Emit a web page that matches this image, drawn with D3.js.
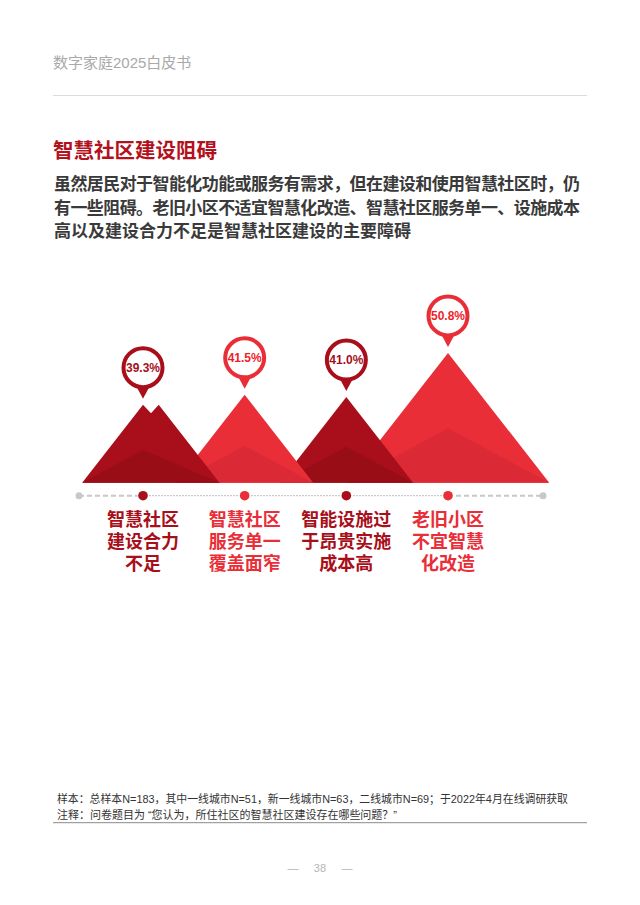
<!DOCTYPE html>
<html>
<head>
<meta charset="utf-8">
<script src="https://cdn.jsdelivr.net/npm/d3@7"></script>
<style>
  body { margin: 0; background: #fff; }
  svg { display: block; }
</style>
</head>
<body>
<div id="chart"></div>
<script>

// Survey answers and share of respondents (%)
const categories = ["建设合力不足", "服务单一覆盖面窄", "设施过于昂贵", "老旧小区不宜改造"]
const values = [39.3, 41.5, 41.0, 50.8]
const labelLines = [
    ["智慧社区", "建设合力", "不足"],
    ["智慧社区", "服务单一", "覆盖面窄"],
    ["智能设施过", "于昂贵实施", "成本高"],
    ["老旧小区", "不宜智慧", "化改造"]
]
const introLines = [
    "虽然居民对于智能化功能或服务有需求，但在建设和使用智慧社区时，仍",
    "有一些阻碍。老旧小区不适宜智慧化改造、智慧社区服务单一、设施成本",
    "高以及建设合力不足是智慧社区建设的主要障碍"
]
const noteLines = [
    "样本：总样本N=183，其中一线城市N=51，新一线城市N=63，二线城市N=69；于2022年4月在线调研获取",
    "注释：问卷题目为 “您认为，所住社区的智慧社区建设存在哪些问题？”"
]
const noteLengths = [511, 340]

const width = 640, height = 905
const cjk = "'Liberation Sans', 'Noto Sans CJK SC', sans-serif"
const darkRed = "#a80f1a", lightRed = "#e92e38"
const darkShade = "#990d17", lightShade = "#db2a35"

const svg = d3.select("#chart").append("svg")
    .attr("width", width)
    .attr("height", height)

// page header
svg.append("text")
    .attr("x", 53).attr("y", 68)
    .attr("font-family", cjk)
    .attr("font-size", 15)
    .attr("fill", "#a9a9a9")
    .text("数字家庭2025白皮书")

svg.append("line")
    .attr("x1", 53).attr("x2", 587)
    .attr("y1", 95.5).attr("y2", 95.5)
    .attr("stroke", "#dcdcdc")
    .attr("stroke-width", 1.2)

svg.append("text")
    .attr("x", 53).attr("y", 158)
    .attr("font-family", cjk)
    .attr("font-size", 20.5)
    .attr("font-weight", "bold")
    .attr("fill", "#b3111c")
    .text("智慧社区建设阻碍")

svg.selectAll(".intro")
    .data(introLines)
    .enter()
    .append("text")
    .attr("class", "intro")
    .attr("x", 54)
    .attr("y", (d, i) => 190 + i * 23.5)
    .attr("font-family", cjk)
    .attr("font-size", 17)
    .attr("font-weight", "bold")
    .attr("fill", "#3a3a3a")
    .each(function (d, i) {
        if (i < introLines.length - 1) {
            d3.select(this).attr("textLength", 526).attr("lengthAdjust", "spacing")
        }
    })
    .text(d => d)

// chart area
const baseY = 482.7
const axisY = 495.7

const x = d3.scalePoint()
    .domain(categories)
    .range([143, 448])

const y = d3.scaleLinear()
    .domain([22, 51])
    .range([baseY, 352])

const slope = 0.78  // half width of a mountain per pixel of height
const isDark = i => i % 2 === 0

const mountains = categories.map((c, i) => {
    const px = x(c)
    const py = y(values[i])
    const h = baseY - py
    return { c, i, px, py, h, hw: h * slope }
})

const mountainG = svg.append("g")

// draw right to left so the left mountains overlap
mountains.slice().reverse().forEach(m => {
    let pts
    if (m.i === 0) {
        // first mountain has a double summit
        pts = [
            [m.px - m.hw, baseY], [m.px, m.py], [m.px + 8, m.py + 8.5],
            [m.px + 15.7, m.py], [m.px + 15.7 + m.hw, baseY]
        ]
    } else {
        pts = [[m.px - m.hw, baseY], [m.px, m.py], [m.px + m.hw, baseY]]
    }
    mountainG.append("path")
        .attr("d", d3.line()(pts) + "Z")
        .attr("fill", isDark(m.i) ? darkRed : lightRed)

    const right = pts[pts.length - 1][0]
    mountainG.append("path")
        .attr("d", d3.line()([[m.px - m.hw, baseY], [m.px, baseY - m.h * 0.42], [right, baseY]]) + "Z")
        .attr("fill", isDark(m.i) ? darkShade : lightShade)
})

// pins
const pinG = svg.selectAll(".pin")
    .data(mountains)
    .enter()
    .append("g")
    .attr("class", "pin")
    .attr("transform", d => `translate(${d.px}, ${d.py - 37})`)

pinG.append("path")
    .attr("d", "M-8,16 L8,16 L0,31 Z")
    .attr("fill", d => isDark(d.i) ? darkRed : lightRed)

pinG.append("circle")
    .attr("r", 19.5)
    .attr("fill", "#fff")
    .attr("stroke", d => isDark(d.i) ? darkRed : lightRed)
    .attr("stroke-width", 4)

pinG.append("text")
    .attr("text-anchor", "middle")
    .attr("dy", "0.36em")
    .attr("font-family", "'Liberation Sans', Arial, sans-serif")
    .attr("font-weight", "bold")
    .attr("font-size", 12)
    .attr("fill", d => isDark(d.i) ? "#a50f1a" : "#ee1f2b")
    .text(d => d3.format(".1f")(values[d.i]) + "%")

// timeline axis
const axisStart = x.range()[0] - 64
const axisEnd = x.range()[1] + 95

svg.append("line")
    .attr("x1", axisStart).attr("x2", x(categories[0]))
    .attr("y1", axisY).attr("y2", axisY)
    .attr("stroke", "#c8c8c8").attr("stroke-width", 2)
    .attr("stroke-dasharray", "5 3")

svg.append("line")
    .attr("x1", x(categories[categories.length - 1])).attr("x2", axisEnd)
    .attr("y1", axisY).attr("y2", axisY)
    .attr("stroke", "#c8c8c8").attr("stroke-width", 2)
    .attr("stroke-dasharray", "5 3")

svg.append("line")
    .attr("x1", x(categories[0])).attr("x2", x(categories[categories.length - 1]))
    .attr("y1", axisY).attr("y2", axisY)
    .attr("stroke", "#bdbdbd").attr("stroke-width", 1)
    .attr("stroke-dasharray", "2 1")

svg.selectAll(".end-dot")
    .data([axisStart, axisEnd])
    .enter()
    .append("circle")
    .attr("cx", d => d).attr("cy", axisY)
    .attr("r", 3.5)
    .attr("fill", "#c8c8c8")

svg.selectAll(".dot")
    .data(mountains)
    .enter()
    .append("circle")
    .attr("cx", d => d.px).attr("cy", axisY)
    .attr("r", 5.5)
    .attr("fill", "#fff")
    .clone()
    .attr("r", 4.8)
    .attr("fill", d => isDark(d.i) ? darkRed : lightRed)

// category labels
const labelG = svg.selectAll(".label")
    .data(mountains)
    .enter()
    .append("text")
    .attr("class", "label")
    .attr("text-anchor", "middle")
    .attr("font-family", cjk)
    .attr("font-size", 18)
    .attr("font-weight", "bold")
    .attr("fill", d => isDark(d.i) ? darkRed : lightRed)

labelG.selectAll("tspan")
    .data(d => labelLines[d.i].map(t => ({ t, px: d.px })))
    .enter()
    .append("tspan")
    .attr("x", d => d.px)
    .attr("y", (d, j) => 526 + j * 22)
    .text(d => d.t)

// footnotes
svg.selectAll(".note")
    .data(noteLines)
    .enter()
    .append("text")
    .attr("class", "note")
    .attr("x", 57)
    .attr("y", (d, i) => 802.5 + i * 16.5)
    .attr("font-family", cjk)
    .attr("font-size", 11.5)
    .attr("fill", "#333")
    .attr("textLength", (d, i) => noteLengths[i])
    .attr("lengthAdjust", "spacingAndGlyphs")
    .text(d => d)

svg.append("line")
    .attr("x1", 53).attr("x2", 587)
    .attr("y1", 822.7).attr("y2", 822.7)
    .attr("stroke", "#8a8a8a")
    .attr("stroke-width", 1)

// page number
svg.append("text")
    .attr("x", 320).attr("y", 872)
    .attr("text-anchor", "middle")
    .attr("font-family", cjk)
    .attr("font-size", 11)
    .attr("fill", "#b5b5b5")
    .attr("xml:space", "preserve")
    .text("—     38     —")

</script>
</body>
</html>
